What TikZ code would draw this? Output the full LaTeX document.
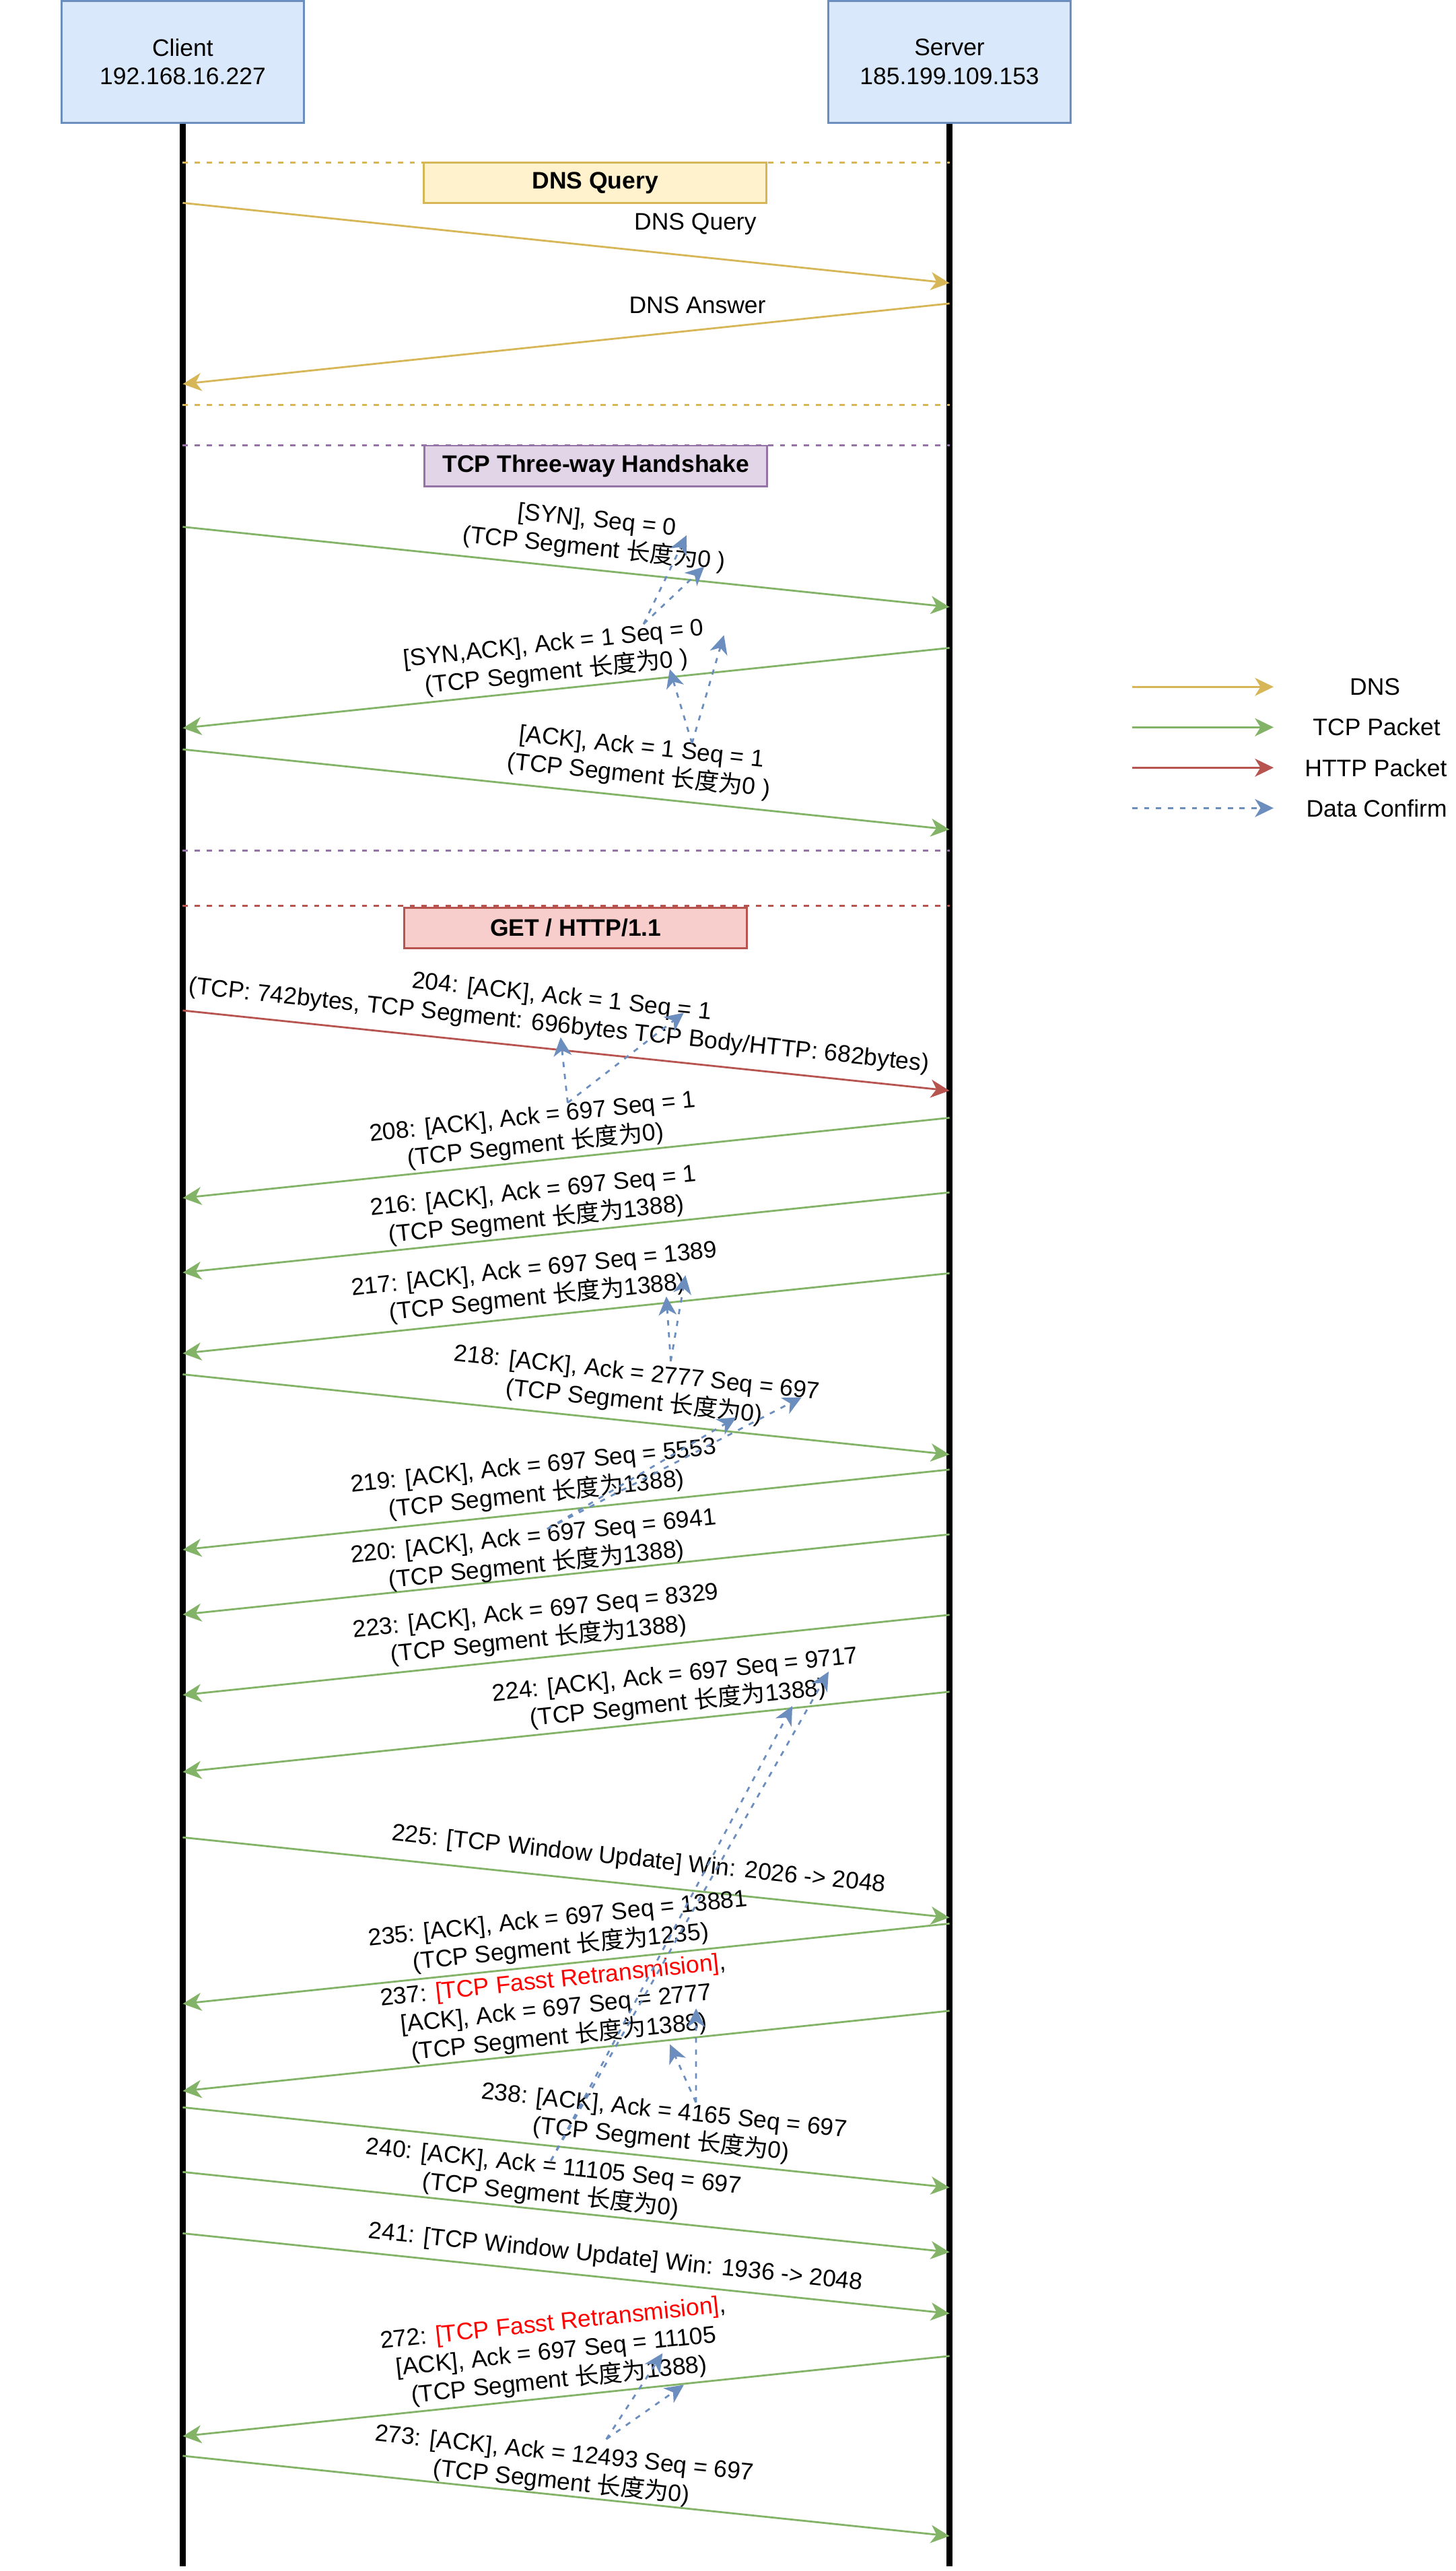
\documentclass[tikz,border=0pt]{standalone}
\usepackage{fontspec}
\setmainfont{Liberation Sans}
\newfontfamily\cjkfont{Noto Sans CJK SC}
\usetikzlibrary{arrows.meta}
\definecolor{dnsc}{HTML}{D6B656}
\definecolor{dnsf}{HTML}{FFF2CC}
\definecolor{tcpc}{HTML}{82B366}
\definecolor{httpc}{HTML}{B85450}
\definecolor{httpf}{HTML}{F8CECC}
\definecolor{blc}{HTML}{6C8EBF}
\definecolor{blf}{HTML}{DAE8FC}
\definecolor{puc}{HTML}{9673A6}
\definecolor{puf}{HTML}{E1D5E7}
\definecolor{alertred}{HTML}{FF0000}
\newcommand{\cn}[1]{{\cjkfont #1}}
\newcommand{\lenzh}{\cn{长度为}}
\begin{document}
\begin{tikzpicture}[x=1pt,y=-1pt,
  txt/.style={font=\fontsize{14.6pt}{17.5pt}\selectfont, inner sep=0pt, align=center},
  labdn/.style={txt, rotate=-6},
  labup/.style={txt, rotate=6},
  actor/.style={txt, draw=blc, fill=blf, line width=1.2pt, minimum width=148pt, minimum height=74.4pt},
  phase/.style={txt, font=\fontsize{14.6pt}{17.5pt}\selectfont\bfseries, line width=1.2pt, minimum width=209.5pt, minimum height=25pt},
  life/.style={line width=3.6pt, black},
  sep/.style={line width=1.2pt, dash pattern=on 3.2pt off 4.1pt},
  msg/.style={line width=1.15pt, -{Stealth[length=11.4pt,width=11pt,inset=3.4pt]}},
  dnsmsg/.style={msg, draw=dnsc},
  tcpmsg/.style={msg, draw=tcpc},
  httpmsg/.style={msg, draw=httpc},
  confirm/.style={msg, draw=blc, dash pattern=on 3.2pt off 4.1pt}
]
\fill[white] (0,0) rectangle (890,1571.4);
\useasboundingbox (0,0) rectangle (890,1571.4);

% actors and lifelines
\node[actor] (client) at (111.7,37.8) {Client\\192.168.16.227};
\node[actor] (server) at (580.4,37.8) {Server\\185.199.109.153};
\coordinate (cbot) at (111.7,1568.5);
\coordinate (sbot) at (580.4,1568.5);
\draw[life] (client.south) -- (cbot);
\draw[life] (server.south) -- (sbot);

% phase separators
\path (111.7,99.2) coordinate (d1a) (580.4,99.2) coordinate (d1b)
      (111.7,247.4) coordinate (d2a) (580.4,247.4) coordinate (d2b)
      (111.7,272) coordinate (t1a) (580.4,272) coordinate (t1b)
      (111.7,519.7) coordinate (t2a) (580.4,519.7) coordinate (t2b)
      (111.7,553.8) coordinate (h1a) (580.4,553.8) coordinate (h1b);
\draw[sep, dnsc] (d1a) -- (d1b);
\draw[sep, dnsc] (d2a) -- (d2b);
\draw[sep, puc] (t1a) -- (t1b);
\draw[sep, puc] (t2a) -- (t2b);
\draw[sep, httpc] (h1a) -- (h1b);
\node[phase, draw=dnsc, fill=dnsf] (pdns) at (363.8,111.7) {DNS Query};
\node[phase, draw=puc, fill=puf] (ptcp) at (364.3,284.9) {TCP Three-way Handshake};
\node[phase, draw=httpc, fill=httpf] (phttp) at (351.9,567.2) {GET / HTTP/1.1};

% message end points
\path (111.7,124) coordinate (m1a) (580.4,173) coordinate (m1b)
      (580.4,185.5) coordinate (m2a) (111.7,234.7) coordinate (m2b)
      (111.7,322) coordinate (m3a) (580.4,371) coordinate (m3b)
      (580.4,396) coordinate (m4a) (111.7,445) coordinate (m4b)
      (111.7,458) coordinate (m5a) (580.4,507) coordinate (m5b)
      (111.7,617.6) coordinate (m6a) (580.4,666.6) coordinate (m6b)
      (580.4,683.2) coordinate (m7a) (111.7,732.2) coordinate (m7b)
      (580.4,728.8) coordinate (m8a) (111.7,777.8) coordinate (m8b)
      (580.4,778.2) coordinate (m9a) (111.7,827.2) coordinate (m9b)
      (111.7,840) coordinate (m10a) (580.4,889) coordinate (m10b)
      (580.4,898.2) coordinate (m11a) (111.7,947.2) coordinate (m11b)
      (580.4,937.8) coordinate (m12a) (111.7,986.8) coordinate (m12b)
      (580.4,987) coordinate (m13a) (111.7,1036) coordinate (m13b)
      (580.4,1034) coordinate (m14a) (111.7,1083) coordinate (m14b)
      (111.7,1123) coordinate (m15a) (580.4,1172) coordinate (m15b)
      (580.4,1175.7) coordinate (m16a) (111.7,1224.7) coordinate (m16b)
      (580.4,1229) coordinate (m17a) (111.7,1278) coordinate (m17b)
      (111.7,1288) coordinate (m18a) (580.4,1337) coordinate (m18b)
      (111.7,1327.5) coordinate (m19a) (580.4,1376.5) coordinate (m19b)
      (111.7,1365) coordinate (m20a) (580.4,1414) coordinate (m20b)
      (580.4,1440) coordinate (m21a) (111.7,1489) coordinate (m21b)
      (111.7,1501) coordinate (m22a) (580.4,1550) coordinate (m22b);

\draw[dnsmsg] (m1a) -- (m1b);
\draw[dnsmsg] (m2a) -- (m2b);
\draw[tcpmsg] (m3a) -- (m3b);
\draw[tcpmsg] (m4a) -- (m4b);
\draw[tcpmsg] (m5a) -- (m5b);
\draw[httpmsg] (m6a) -- (m6b);
\draw[tcpmsg] (m7a) -- (m7b);
\draw[tcpmsg] (m8a) -- (m8b);
\draw[tcpmsg] (m9a) -- (m9b);
\draw[tcpmsg] (m10a) -- (m10b);
\draw[tcpmsg] (m11a) -- (m11b);
\draw[tcpmsg] (m12a) -- (m12b);
\draw[tcpmsg] (m13a) -- (m13b);
\draw[tcpmsg] (m14a) -- (m14b);
\draw[tcpmsg] (m15a) -- (m15b);
\draw[tcpmsg] (m16a) -- (m16b);
\draw[tcpmsg] (m17a) -- (m17b);
\draw[tcpmsg] (m18a) -- (m18b);
\draw[tcpmsg] (m19a) -- (m19b);
\draw[tcpmsg] (m20a) -- (m20b);
\draw[tcpmsg] (m21a) -- (m21b);
\draw[tcpmsg] (m22a) -- (m22b);

% labels
\node[txt] (ldq) at (425,137) {DNS Query};
\node[txt] (lda) at (426.3,186.4) {DNS Answer};
\node[labdn] (lsyn) at (364,327.3) {{[SYN]}, Seq = 0\\(TCP Segment \lenzh0 )};
\node[labup] (lsynack) at (339.4,402.8) {{[SYN,ACK]}, Ack = 1 Seq = 0\\(TCP Segment \lenzh0 )};
\node[labdn] (lack) at (391.3,466) {{[ACK]}, Ack = 1 Seq = 1\\(TCP Segment \lenzh0 )};
\node[labdn] (l204) at (342.5,618.5) {204: [ACK], Ack = 1 Seq = 1\\(TCP: 742bytes, TCP Segment: 696bytes TCP Body/HTTP: 682bytes)};
\node[labup] (l208) at (326.5,692) {208: [ACK], Ack = 697 Seq = 1\\(TCP Segment \lenzh0)};
\node[labup] (l216) at (327,737.5) {216: [ACK], Ack = 697 Seq = 1\\(TCP Segment \lenzh1388)};
\node[labup] (l217) at (327.5,785) {217: [ACK], Ack = 697 Seq = 1389\\(TCP Segment \lenzh1388)};
\node[labdn] (l218) at (388.4,848.5) {218: [ACK], Ack = 2777 Seq = 697\\(TCP Segment \lenzh0)};
\node[labup] (l219) at (327,905.4) {219: [ACK], Ack = 697 Seq = 5553\\(TCP Segment \lenzh1388)};
\node[labup] (l220) at (327,948.5) {220: [ACK], Ack = 697 Seq = 6941\\(TCP Segment \lenzh1388)};
\node[labup] (l223) at (328.5,994) {223: [ACK], Ack = 697 Seq = 8329\\(TCP Segment \lenzh1388)};
\node[labup] (l224) at (413.7,1033) {224: [ACK], Ack = 697 Seq = 9717\\(TCP Segment \lenzh1388)};
\node[labdn] (l225) at (390.4,1137) {225: [TCP Window Update] Win: 2026 -> 2048};
\node[labup] (l235) at (342,1182) {235: [ACK], Ack = 697 Seq = 13881\\(TCP Segment \lenzh1235)};
\node[labup] (l237) at (340,1228.4) {237: \textcolor{alertred}{[TCP Fasst Retransmision]},\\{}[ACK], Ack = 697 Seq = 2777\\(TCP Segment \lenzh1388)};
\node[labdn] (l238) at (405,1299.4) {238: [ACK], Ack = 4165 Seq = 697\\(TCP Segment \lenzh0)};
\node[labdn] (l240) at (337.5,1333.6) {240: [ACK], Ack = 11105 Seq = 697\\(TCP Segment \lenzh0)};
\node[labdn] (l241) at (376.3,1380) {241: [TCP Window Update] Win: 1936 -> 2048};
\node[labup] (l272) at (340,1438) {272: \textcolor{alertred}{[TCP Fasst Retransmision]},\\{}[ACK], Ack = 697 Seq = 11105\\(TCP Segment \lenzh1388)};
\node[labdn] (l273) at (344,1509) {273: [ACK], Ack = 12493 Seq = 697\\(TCP Segment \lenzh0)};

% data confirm arrows
\path (393.4,381.4) coordinate (h1s) (419.6,327.2) coordinate (h1t) (430.5,346.3) coordinate (h2t)
      (423,454.3) coordinate (h3s) (409.4,409) coordinate (h3t) (442.5,388.2) coordinate (h4t)
      (347,674) coordinate (b1s) (342.7,634) coordinate (b1t) (418,619) coordinate (b2t)
      (410,832) coordinate (b3s) (407.3,792.4) coordinate (b3t) (419,779.4) coordinate (b4t)
      (334.5,934.5) coordinate (b5s) (450,866.3) coordinate (b5t) (490,854) coordinate (b6t)
      (336.7,1320.7) coordinate (b7s) (484.3,1042.7) coordinate (b7t) (506.5,1021.7) coordinate (b8t)
      (425.4,1285) coordinate (b9s) (409.5,1249.5) coordinate (b9t) (425.5,1227.5) coordinate (b10t)
      (370.6,1490.8) coordinate (b11s) (405,1438.3) coordinate (b11t) (418,1457.6) coordinate (b12t);
\draw[confirm] (h1s) -- (h1t);
\draw[confirm] (h1s) -- (h2t);
\draw[confirm] (h3s) -- (h3t);
\draw[confirm] (h3s) -- (h4t);
\draw[confirm] (b1s) -- (b1t);
\draw[confirm] (b1s) -- (b2t);
\draw[confirm] (b3s) -- (b3t);
\draw[confirm] (b3s) -- (b4t);
\draw[confirm] (b5s) -- (b5t);
\draw[confirm] (b5s) -- (b6t);
\draw[confirm] (b7s) -- (b7t);
\draw[confirm] (b7s) -- (b8t);
\draw[confirm] (b9s) -- (b9t);
\draw[confirm] (b9s) -- (b10t);
\draw[confirm] (b11s) -- (b11t);
\draw[confirm] (b11s) -- (b12t);

% legend
\path (692,419.8) coordinate (g1a) (778.5,419.8) coordinate (g1b)
      (692,444.5) coordinate (g2a) (778.5,444.5) coordinate (g2b)
      (692,469.2) coordinate (g3a) (778.5,469.2) coordinate (g3b)
      (692,493.9) coordinate (g4a) (778.5,493.9) coordinate (g4b);
\draw[dnsmsg] (g1a) -- (g1b);
\draw[tcpmsg] (g2a) -- (g2b);
\draw[httpmsg] (g3a) -- (g3b);
\draw[confirm] (g4a) -- (g4b);
\node[txt] (gl1) at (840.5,419.8) {DNS};
\node[txt] (gl2) at (841.5,444.5) {TCP Packet};
\node[txt] (gl3) at (841,469.2) {HTTP Packet};
\node[txt] (gl4) at (841.5,493.9) {Data Confirm};
\end{tikzpicture}
\end{document}
